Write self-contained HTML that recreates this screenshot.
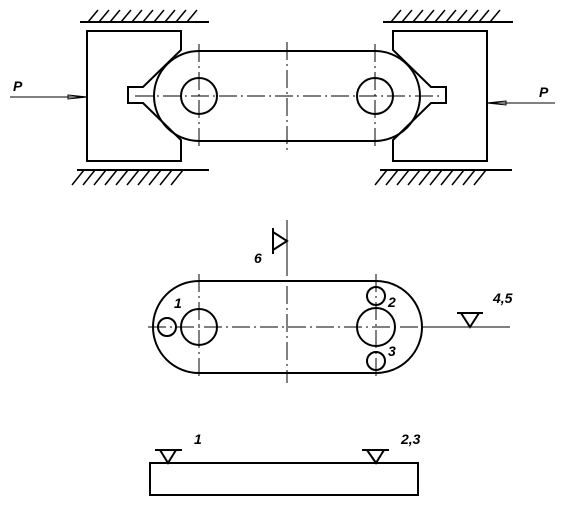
<!DOCTYPE html>
<html><head><meta charset="utf-8"><style>
html,body{margin:0;padding:0;background:#fff;}
svg{display:block;}
text{font-family:"Liberation Sans",sans-serif;font-weight:bold;font-style:italic;font-size:14px;fill:#000;}
</style></head><body>
<svg width="571" height="519" viewBox="0 0 571 519" xmlns="http://www.w3.org/2000/svg">
<g fill="none" stroke="#000">
<!-- ground lines and hatches -->
<g stroke-width="2">
<line x1="80" y1="22" x2="209" y2="22"/>
<path d="M88 22l10-12M99 22l10-12M110 22l10-12M121 22l10-12M132 22l10-12M143 22l10-12M154 22l10-12M165 22l10-12M176 22l10-12M187 22l10-12" stroke-width="1.5"/>
</g>
<g stroke-width="2">
<line x1="77" y1="170" x2="209" y2="170"/>
<path d="M72 185l12-15M83 185l12-15M94 185l12-15M105 185l12-15M116 185l12-15M127 185l12-15M138 185l12-15M149 185l12-15M160 185l12-15M171 185l12-15" stroke-width="1.5"/>
</g>
<g stroke-width="2">
<line x1="383" y1="22" x2="513" y2="22"/>
<path d="M391 22l10-12M402 22l10-12M413 22l10-12M424 22l10-12M435 22l10-12M446 22l10-12M457 22l10-12M468 22l10-12M479 22l10-12M490 22l10-12" stroke-width="1.5"/>
</g>
<g stroke-width="2">
<line x1="380" y1="170" x2="512" y2="170"/>
<path d="M375 185l12-15M386 185l12-15M397 185l12-15M408 185l12-15M419 185l12-15M430 185l12-15M441 185l12-15M452 185l12-15M463 185l12-15M474 185l12-15" stroke-width="1.5"/>
</g>
<!-- blocks -->
<path stroke-width="2" d="M87 31H181V50L143 87H128V103H143L181 140V161H87Z"/>
<path stroke-width="2" d="M487 31H393V50L431 87H446V103H431L393 140V161H487Z"/>
<!-- link top view -->
<path stroke-width="2" d="M199 51H375A45 45 0 0 1 375 141H199A45 45 0 0 1 199 51Z"/>
<circle cx="199" cy="96" r="18" stroke-width="2"/>
<circle cx="375" cy="96" r="18" stroke-width="2"/>
<g stroke-width="1" stroke-dasharray="18 4 2 4">
<line x1="135" y1="96" x2="440" y2="96"/>
<line x1="199" y1="44" x2="199" y2="148"/>
<line x1="375" y1="44" x2="375" y2="148"/>
<line x1="287" y1="42" x2="287" y2="153"/>
</g>
<!-- forces -->
<g stroke-width="1">
<line x1="10" y1="97" x2="87" y2="97"/>
<path d="M68 95L87 97L68 99Z" stroke-width="1"/>
</g>
<g stroke-width="1">
<line x1="555" y1="103" x2="487" y2="103"/>
<path d="M506 101L487 103L506 105Z"/>
</g>
<!-- middle view -->
<path stroke-width="2" d="M199 281H376A46 46 0 0 1 376 373H199A46 46 0 0 1 199 281Z"/>
<circle cx="199" cy="327" r="18" stroke-width="2"/>
<circle cx="376" cy="327" r="19" stroke-width="2"/>
<circle cx="167" cy="327" r="9" stroke-width="2"/>
<circle cx="376" cy="296" r="9" stroke-width="2"/>
<circle cx="376" cy="361" r="9" stroke-width="2"/>
<g stroke-width="1" stroke-dasharray="18 4 2 4">
<line x1="148" y1="327" x2="422" y2="327"/>
<line x1="199" y1="274" x2="199" y2="379"/>
<line x1="376" y1="274" x2="376" y2="379"/>
<line x1="287" y1="258" x2="287" y2="383"/>
</g>
<line x1="287" y1="220" x2="287" y2="258" stroke-width="1"/>
<line x1="422" y1="327" x2="510" y2="327" stroke-width="1"/>
<path stroke-width="2" d="M273 228V254M273 232L287 241L273 250"/>
<path stroke-width="2" d="M457 313H483M461 313L470 327L479 313"/>
<!-- bottom view -->
<rect x="150" y="463" width="268" height="32" stroke-width="2"/>
<path stroke-width="2" d="M155 450H182M160 450L168 463L176 450"/>
<path stroke-width="2" d="M362 450H389M367 450L376 463L384 450"/>
</g>
<text x="13" y="91">P</text>
<text x="539" y="97">P</text>
<text x="254" y="263">6</text>
<text x="174" y="308">1</text>
<text x="388" y="307">2</text>
<text x="388" y="356">3</text>
<text x="493" y="303">4,5</text>
<text x="194" y="444">1</text>
<text x="401" y="444">2,3</text>
</svg>
</body></html>
